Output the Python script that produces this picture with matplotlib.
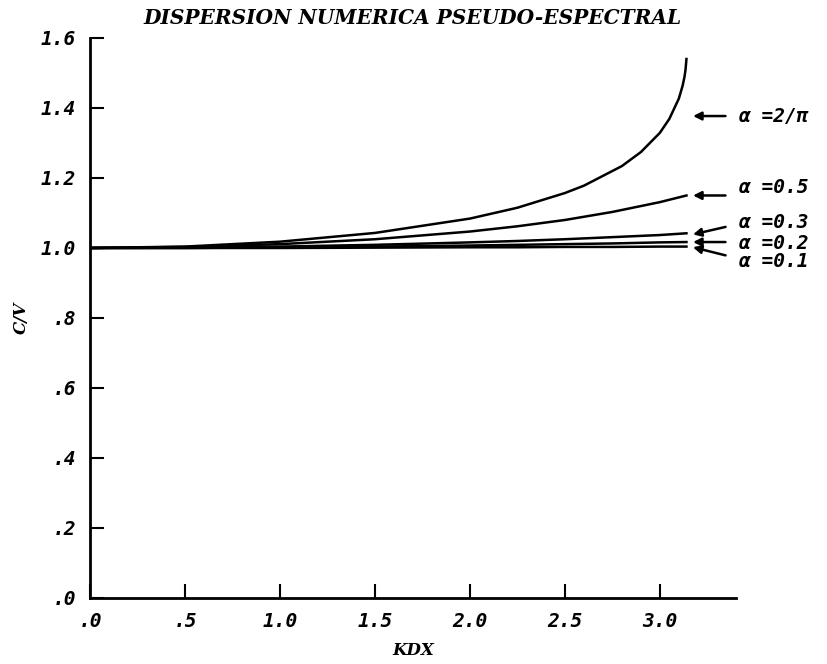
import numpy as np
import matplotlib
matplotlib.use("Agg")
from matplotlib import pyplot as plt

# phase velocity ratio C/V vs KDX for each alpha
kdx_a = [0.0, 0.5, 1.0, 1.5, 2.0, 2.25, 2.5, 2.6, 2.7, 2.8, 2.9, 3.0, 3.05,
         3.1, 3.12, 3.13, 3.135, 3.14]
cv_2pi = [1.000, 1.004, 1.018, 1.043, 1.084, 1.115, 1.157, 1.178, 1.206, 1.234,
          1.274, 1.329, 1.369, 1.427, 1.464, 1.490, 1.509, 1.540]

kdx_b = [0.0, 0.5, 1.0, 1.5, 2.0, 2.25, 2.5, 2.75, 3.0, 3.14]
cv_05 = [1.000, 1.003, 1.011, 1.025, 1.047, 1.062, 1.080, 1.103, 1.131, 1.150]
cv_03 = [1.000, 1.001, 1.004, 1.009, 1.016, 1.020, 1.025, 1.031, 1.037, 1.042]
cv_02 = [1.000, 1.000, 1.002, 1.004, 1.007, 1.009, 1.011, 1.013, 1.016, 1.017]
cv_01 = [1.000, 1.000, 1.000, 1.001, 1.002, 1.002, 1.003, 1.003, 1.004, 1.004]

labels = ["\u03b1 =2/\u03c0", "\u03b1 =0.5", "\u03b1 =0.3", "\u03b1 =0.2", "\u03b1 =0.1"]

xticks = [0.0, 0.5, 1.0, 1.5, 2.0, 2.5, 3.0]
xticklabels = [".0", ".5", "1.0", "1.5", "2.0", "2.5", "3.0"]
yticks = [0.0, 0.2, 0.4, 0.6, 0.8, 1.0, 1.2, 1.4, 1.6]
yticklabels = [".0", ".2", ".4", ".6", ".8", "1.0", "1.2", "1.4", "1.6"]

fnt = dict(family="DejaVu Serif", weight="bold", style="italic")
mono = dict(family="DejaVu Sans Mono", weight="bold", style="italic")

fig = plt.figure(figsize=(8.28, 6.64), dpi=100)
ax = fig.add_axes([0.1087, 0.0994, 0.780, 0.8434])

for y in [cv_01, cv_02, cv_03, cv_05]:
    ax.plot(kdx_b, y, color="black", lw=1.8)
ax.plot(kdx_a, cv_2pi, color="black", lw=1.8)

ax.set_xlim(0, 3.4)
ax.set_ylim(0, 1.6)
for s in ["top", "right"]:
    ax.spines[s].set_visible(False)
for s in ["left", "bottom"]:
    ax.spines[s].set_linewidth(2)

ax.set_xticks(xticks)
ax.set_xticklabels(xticklabels, fontsize=14, **mono)
ax.set_yticks(yticks)
ax.set_yticklabels(yticklabels, fontsize=14, **mono)
ax.tick_params(direction="in", length=10, width=1.5, pad=10)

ax.set_xlabel("KDX", fontsize=12, labelpad=8, **fnt)
ax.set_ylabel("C/V", fontsize=12, **fnt)
ax.yaxis.set_label_coords(-0.093, 0.5)
ax.set_title("DISPERSION NUMERICA PSEUDO-ESPECTRAL", fontsize=14.5, pad=10, **fnt)

# arrows from the labels to the curve ends
heads = [(3.16, 1.377), (3.16, 1.150), (3.16, 1.037), (3.16, 1.017), (3.16, 1.004)]
texts = [(3.41, 1.377), (3.41, 1.172), (3.41, 1.072), (3.41, 1.012), (3.41, 0.962)]
tails = [(3.36, 1.377), (3.36, 1.150), (3.36, 1.062), (3.36, 1.017), (3.36, 0.977)]
for lab, h, t, tl in zip(labels, heads, texts, tails):
    ax.annotate("", xy=h, xytext=tl, xycoords="data", textcoords="data",
                arrowprops=dict(arrowstyle="-|>", color="black", lw=1.8,
                                mutation_scale=12), annotation_clip=False)
    ax.text(t[0], t[1], lab, fontsize=14, va="center", ha="left",
            clip_on=False, **mono)

fig.savefig("out.png", dpi=100)
